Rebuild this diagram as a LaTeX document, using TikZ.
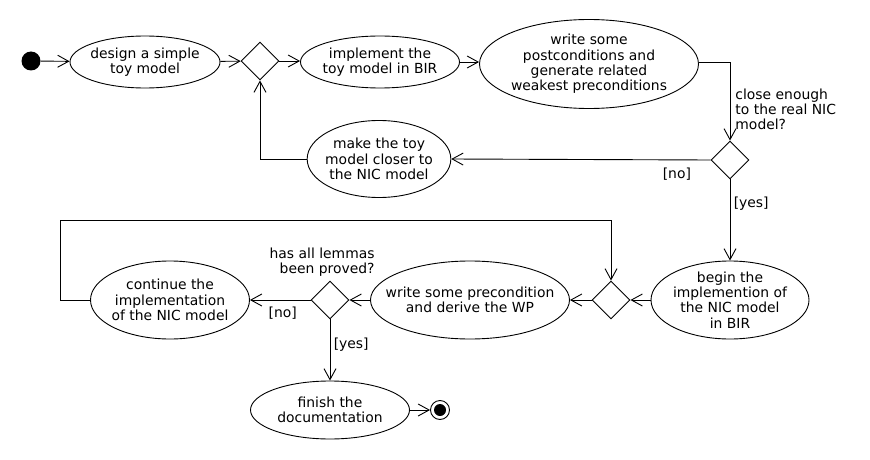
\documentclass[tikz,border=0pt]{standalone}
\usepackage{fontspec}
\setmainfont{DejaVu Sans}
\usetikzlibrary{shapes.geometric,arrows.meta}

\begin{document}
\begin{tikzpicture}[x=1pt,y=-1pt,line width=0.9pt,
  font=\fontsize{13.9}{15.4}\selectfont,
  act/.style={ellipse,draw,inner sep=-3pt,align=center},
  decision/.style={diamond,draw,minimum width=38pt,minimum height=38pt,inner sep=0pt},
  initial/.style={circle,fill=black,minimum size=19pt,inner sep=0pt},
  final/.style={circle,draw,minimum size=19pt,inner sep=0pt,
    path picture={\fill (path picture bounding box.center) circle (6pt);}},
  guard/.style={inner sep=0pt,align=left},
  flow/.style={-{Straight Barb[length=11pt,width=12pt]}}]
 \useasboundingbox (0,0) rectangle (870,460);
 % top row
 \node[initial] (start) at (31,61) {};
 \node[act,minimum width=150pt,minimum height=52pt] (design) at (145,62) {design a simple\\toy model};
 \node[decision] (d1) at (260,61) {};
 \node[act,minimum width=159pt,minimum height=52pt] (impl) at (380,62) {implement the\\toy model in BIR};
 \node[act,minimum width=219pt,minimum height=89pt] (write) at (589,64) {write some\\postconditions and\\generate related\\weakest preconditions};
 \node[decision] (d2) at (730,160) {};
 \node[guard,anchor=north west] (q1) at (735,88) {close enough\\to the real NIC\\model?};
 \node[act,minimum width=138pt,minimum height=77pt] (make) at (379,159) {make the toy\\model closer to\\the NIC model};
 % bottom row
 \node[act,minimum width=158pt,minimum height=78pt] (begin) at (730,300) {begin the\\implemention of\\the NIC model\\in BIR};
 \node[decision] (d3) at (611,300) {};
 \node[act,inner xsep=-14pt,minimum width=199pt,minimum height=78pt] (wp) at (470,300) {write some precondition\\and derive the WP};
 \node[decision] (d4) at (330,300) {};
 \node[guard,align=right,anchor=north east] (q2) at (375,247) {has all lemmas\\been proved?};
 \node[act,minimum width=159pt,minimum height=78pt] (cont) at (170,300) {continue the\\implementation\\of the NIC model};
 \node[act,minimum width=159pt,minimum height=58pt] (finish) at (330,410) {finish the\\documentation};
 \node[final] (end) at (440,410) {};
 \coordinate (loop) at (60,220);
 % flows
 \draw[flow] (start) -- (design);
 \draw[flow] (design) -- (d1);
 \draw[flow] (d1) -- (d1 -| impl.west);
 \draw[flow] (impl.east) -- (impl.east -| write.west);
 \draw[flow] (write.east |- impl.east) -| (d2.north);
 \draw[flow] (d2.west) -- node[pos=0.13,below=4pt] {[no]} (make.east);
 \draw[flow] (make.west) -| (d1.south);
 \draw[flow] (d2.south) -- node[pos=0.3,right] {[yes]} (begin.north);
 \draw[flow] (begin.west) -- (d3.east);
 \draw[flow] (d3.west) -- (wp.east);
 \draw[flow] (wp.west) -- (d4.east);
 \draw[flow] (d4.west) -- node[pos=0.46,below=3pt] {[no]} (cont.east);
 \draw[flow] (d4.south) -- node[pos=0.42,right] {[yes]} (finish.north);
 \draw[flow] (finish.east) -- (end.west);
 \draw[flow] (cont.west) -| (loop) -| (d3.north);
\end{tikzpicture}
\end{document}
